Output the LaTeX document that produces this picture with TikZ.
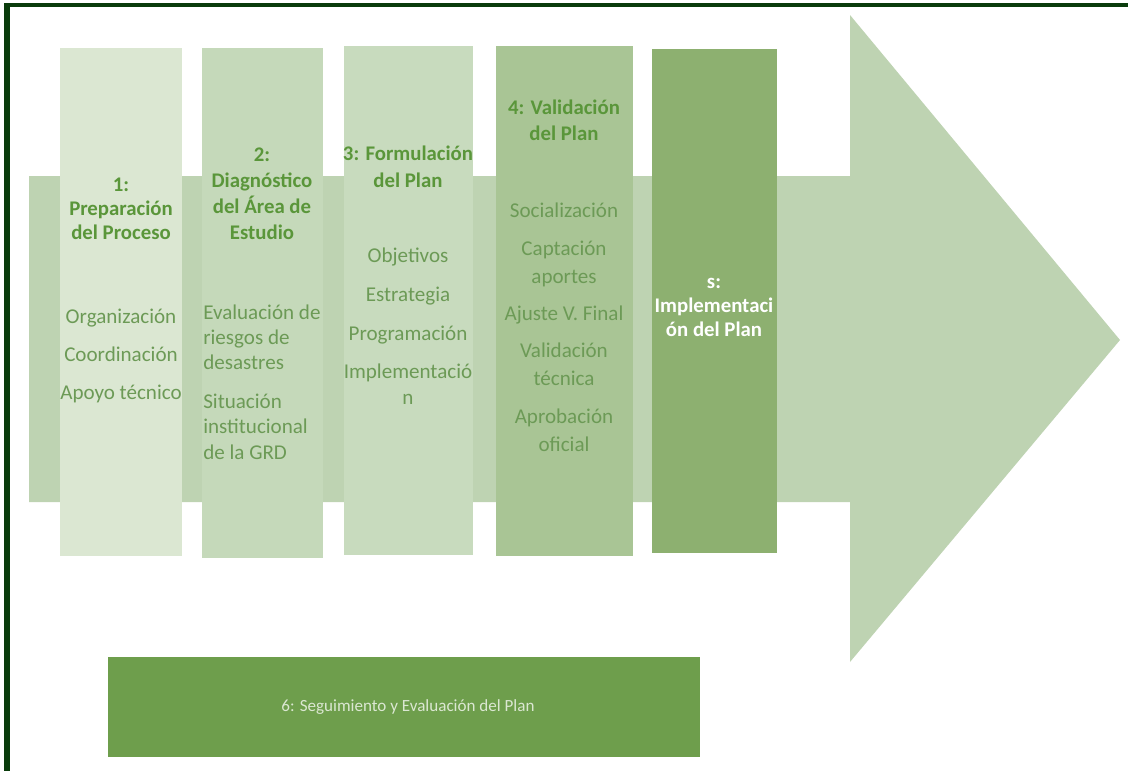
\documentclass[tikz,border=0pt]{standalone}
\usepackage{fontspec}
\setmainfont{Carlito}
\usepackage{xcolor}
\definecolor{framegreen}{RGB}{10,60,12}
\definecolor{arrowgreen}{RGB}{190,211,178}
\definecolor{phaseone}{RGB}{219,231,210}
\definecolor{phasetwo}{RGB}{197,217,186}
\definecolor{phasethree}{RGB}{200,219,190}
\definecolor{phasefour}{RGB}{169,197,149}
\definecolor{phasefive}{RGB}{141,176,112}
\definecolor{phasesix}{RGB}{110,158,76}
\definecolor{titlegreen}{RGB}{90,150,58}
\definecolor{itemgreen}{RGB}{108,154,86}

% base anchor sits on the last line of each block
\tikzset{
  phase title/.style={anchor=base, align=center, inner sep=0pt, text=titlegreen,
    font=\fontsize{15.6}{18}\selectfont\bfseries},
  phase item/.style={anchor=base, align=center, inner sep=0pt, text=itemgreen,
    font=\fontsize{15.8}{19}\selectfont},
}

\begin{document}
\begin{tikzpicture}[x=0.75pt, y=-0.75pt]
\useasboundingbox (0,0) rectangle (1128,771);

% big arrow behind the phases
\fill[arrowgreen] (29,176) -- (850,176) -- (850,15) -- (1120,340)
  -- (850,662) -- (850,502) -- (29,502) -- cycle;

% phase columns
\fill[phaseone]   (60,48)  rectangle (182,556);
\fill[phasetwo]   (202,48) rectangle (323,558);
\fill[phasethree] (344,46) rectangle (473,555);
\fill[phasefour]  (496,46) rectangle (633,556);
\fill[phasefive]  (652,49) rectangle (777,553);
\fill[phasesix]   (108,657) rectangle (700,757);

% 1
\node[phase title] (prep) at (121,239) {1:\\Preparación\\del Proceso};
\node[phase item] (prepitems) at (121,399)
  {Organización\\[9.5pt]Coordinación\\[9.5pt]Apoyo técnico};

% 2
\node[phase title, font=\fontsize{15.6}{19.5}\selectfont\bfseries] (diag) at (262,239)
  {2:\\Diagnóstico\\del Área de\\Estudio};
\node[phase item, anchor=base west, align=left] (diagitems) at (203,459)
  {Evaluación de\\riesgos de\\desastres\\[10pt]Situación\\institucional\\de la GRD};

% 3
\node[phase title, font=\fontsize{15.6}{20}\selectfont\bfseries] (form) at (408,187)
  {3: Formulación\\del Plan};
\node[phase item] (formitems) at (408,404)
  {Objetivos\\[10pt]Estrategia\\[10pt]Programación\\[10pt]Implementació\\n};

% 4
\node[phase title, font=\fontsize{15.6}{19.5}\selectfont\bfseries] (valid) at (564,140)
  {4: Validación\\del Plan};
\node[phase item, font=\fontsize{15.8}{21}\selectfont] (validitems) at (564,451)
  {Socialización\\[7pt]Captación\\aportes\\[7pt]Ajuste V. Final\\[7pt]Validación\\técnica\\[7pt]Aprobación\\oficial};

% 5
\node[phase title, text=white] (impl) at (714,336) {s:\\Implementaci\\ón del Plan};

% 6
\node[inner sep=0pt, text=phaseone, font=\fontsize{12.8}{15}\selectfont] (segui) at (408,707)
  {6: Seguimiento y Evaluación del Plan};

% frame
\draw[framegreen, line width=3.4pt] (4,5) -- (1128,5);
\draw[framegreen, line width=4.5pt] (7,3) -- (7,771);
\end{tikzpicture}
\end{document}
